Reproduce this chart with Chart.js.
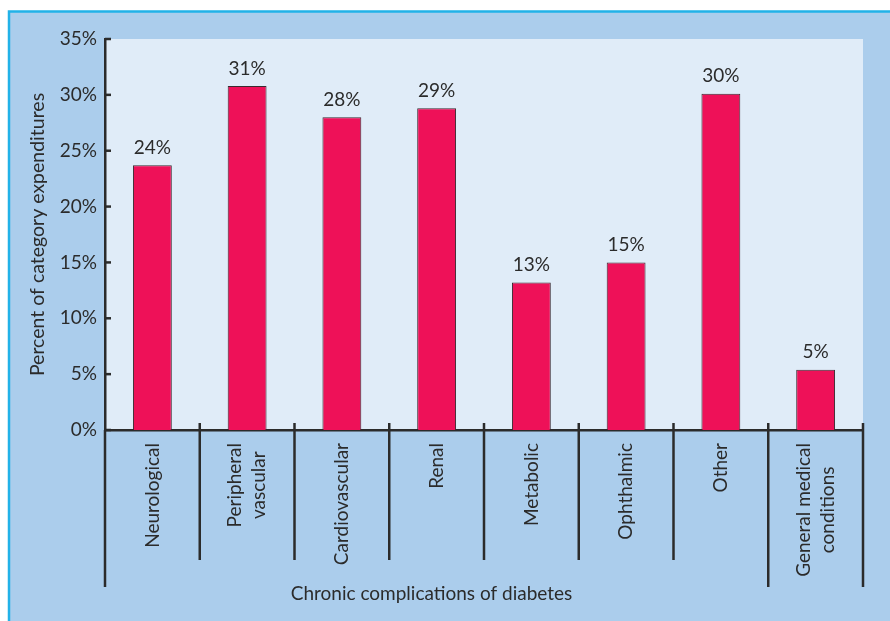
<!DOCTYPE html>
<html>
<head>
<meta charset="utf-8">
<script src="https://cdn.jsdelivr.net/npm/chart.js@4.4.0/dist/chart.umd.min.js"></script>
<style>
  body { margin: 0; background: #fff; }
  canvas { display: block; }
</style>
</head>
<body>
<canvas id="chart" width="890" height="621"></canvas>
<script>
const categories = [
  ['Neurological'],
  ['Peripheral', 'vascular'],
  ['Cardiovascular'],
  ['Renal'],
  ['Metabolic'],
  ['Ophthalmic'],
  ['Other'],
  ['General medical', 'conditions']
];
const percentValues = [23.7, 30.8, 28.0, 28.8, 13.2, 15.0, 30.1, 5.4];
const yTicks = [0, 5, 10, 15, 20, 25, 30, 35];
const xTitle = 'Chronic complications of diabetes';

const FONT = 'Lato, "Open Sans", sans-serif';
const INK = '#2b2b2b';

// cadre, fond du graphique, séparateurs et étiquettes
const decorPlugin = {
  id: 'decor',
  beforeDraw(chart) {
    const { ctx, chartArea: a } = chart;
    ctx.save();
    ctx.fillStyle = '#ffffff';
    ctx.fillRect(0, 0, chart.width, chart.height);
    ctx.fillStyle = '#abcdec';
    ctx.fillRect(9, 12, chart.width - 9, chart.height - 12);
    ctx.strokeStyle = '#22b2e8';
    ctx.lineWidth = 2.5;
    ctx.beginPath();
    ctx.moveTo(9, chart.height);
    ctx.lineTo(9, 11.5);
    ctx.lineTo(chart.width, 11.5);
    ctx.stroke();
    ctx.fillStyle = '#e0ecf8';
    ctx.fillRect(a.left, a.top, a.right - a.left, a.bottom - a.top);
    ctx.restore();
  },
  afterDraw(chart) {
    const { ctx, chartArea: a } = chart;
    const x = chart.scales.x, y = chart.scales.y;
    const n = categories.length;
    const step = x.getPixelForValue(1) - x.getPixelForValue(0);
    ctx.save();
    ctx.strokeStyle = INK;
    ctx.lineWidth = 2.5;
    // séparateurs de catégories
    for (let i = 0; i <= n; i++) {
      const px = x.getPixelForValue(i) - step / 2;
      const long = i === 0 || i >= n - 1;
      ctx.beginPath();
      ctx.moveTo(px, i === 0 ? a.bottom : a.bottom - 7);
      ctx.lineTo(px, long ? 587 : 560);
      ctx.stroke();
    }
    // petites graduations vers l'intérieur
    yTicks.forEach(v => {
      const py = y.getPixelForValue(v);
      ctx.beginPath();
      ctx.moveTo(a.left, py);
      ctx.lineTo(a.left + 6, py);
      ctx.stroke();
    });
    // étiquettes des catégories (tournées, lignes centrées)
    ctx.fillStyle = INK;
    ctx.font = '19px ' + FONT;
    ctx.textAlign = 'center';
    ctx.textBaseline = 'middle';
    const lineGap = 24;
    categories.forEach((lines, i) => {
      const cx = x.getPixelForValue(i);
      const w = Math.max(...lines.map(l => ctx.measureText(l).width));
      const top = a.bottom + 13;
      lines.forEach((l, j) => {
        const lx = cx + (j - (lines.length - 1) / 2) * lineGap;
        ctx.save();
        ctx.translate(lx, top + w / 2);
        ctx.rotate(-Math.PI / 2);
        ctx.fillText(l, 0, 0);
        ctx.restore();
      });
    });
    // titre de l'axe x
    ctx.fillText(xTitle, a.right / 2, chart.height - 27);
    // valeurs au-dessus des barres
    ctx.textBaseline = 'bottom';
    const meta = chart.getDatasetMeta(0);
    meta.data.forEach((bar, i) => {
      ctx.fillText(Math.round(percentValues[i]) + '%', bar.x, bar.y - 8);
    });
    ctx.restore();
  }
};

new Chart(document.getElementById('chart'), {
  type: 'bar',
  data: {
    labels: categories,
    datasets: [{
      data: percentValues,
      backgroundColor: '#ee1158',
      borderColor: '#3a2a30',
      borderWidth: 1,
      barPercentage: 0.41,
      categoryPercentage: 1
    }]
  },
  options: {
    responsive: false,
    animation: false,
    layout: { padding: { top: 39, right: 27, left: 0, bottom: 0 } },
    plugins: {
      legend: { display: false },
      tooltip: { enabled: false }
    },
    scales: {
      x: {
        grid: { display: false, drawTicks: false },
        border: { display: true, color: INK, width: 2.5 },
        ticks: { display: false },
        afterFit(scale) { scale.height = 191; }
      },
      y: {
        min: 0,
        max: 35,
        grid: { display: false, drawTicks: false },
        border: { display: true, color: INK, width: 2.5 },
        ticks: {
          stepSize: 5,
          padding: 8,
          color: INK,
          font: { family: FONT, size: 19 },
          callback: v => v + '%'
        },
        title: {
          display: true,
          text: 'Percent of category expenditures',
          color: INK,
          font: { family: FONT, size: 19.5, lineHeight: 1 },
          padding: { top: 28, bottom: 0 }
        },
        afterFit(scale) { scale.width = 105; }
      }
    }
  },
  plugins: [decorPlugin]
});
</script>
</body>
</html>
